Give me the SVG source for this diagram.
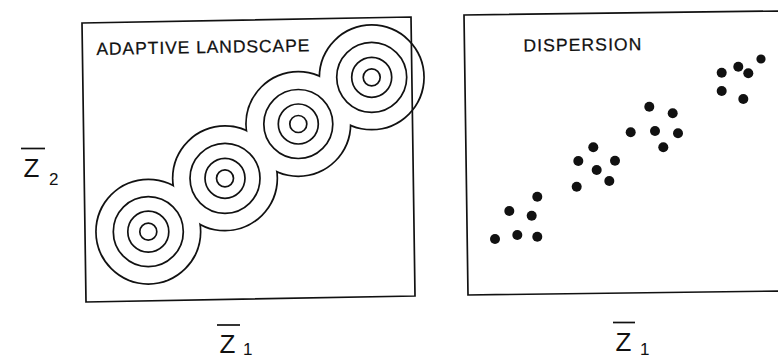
<svg xmlns="http://www.w3.org/2000/svg" width="778" height="360" viewBox="0 0 778 360">
  <defs>
    <style>
      .frame { fill: none; stroke: #111; stroke-width: 1.7; stroke-linejoin: miter; }
      .ring { fill: none; stroke: #111; stroke-width: 1.7; }
      .outer-stroke { fill: none; stroke: #111; stroke-width: 3.4; }
      .outer-fill { fill: #fff; stroke: none; }
      .dot { fill: #111; }
      .title { font-family: "Liberation Sans", Arial, Helvetica, sans-serif; font-size: 17.5px; fill: #111; stroke: #111; stroke-width: 0.25; }
      .axis { font-family: "Liberation Sans", Arial, Helvetica, sans-serif; font-size: 26px; fill: #111; }
      .sub { font-family: "Liberation Sans", Arial, Helvetica, sans-serif; font-size: 17px; fill: #111; }
      .bar { stroke: #111; stroke-width: 1.7; }
    </style>
  </defs>
  <rect width="778" height="360" fill="#fff"/>

  <!-- Left panel: adaptive landscape -->
  <g id="adaptive-landscape">
    <!-- union outline of the outer contours -->
    <g id="outer-contour">
      <circle class="outer-stroke" cx="148.3" cy="231.7" r="51.5"/>
      <circle class="outer-stroke" cx="225" cy="178.3" r="51.5"/>
      <circle class="outer-stroke" cx="298.3" cy="124" r="51.5"/>
      <circle class="outer-stroke" cx="371.7" cy="77.3" r="51.5"/>
      <circle class="outer-fill" cx="148.3" cy="231.7" r="51.5"/>
      <circle class="outer-fill" cx="225" cy="178.3" r="51.5"/>
      <circle class="outer-fill" cx="298.3" cy="124" r="51.5"/>
      <circle class="outer-fill" cx="371.7" cy="77.3" r="51.5"/>
    </g>
    <g id="peak-1">
      <circle class="ring" cx="148.3" cy="231.7" r="35"/>
      <circle class="ring" cx="148.3" cy="231.7" r="20.5"/>
      <circle class="ring" cx="148.3" cy="231.7" r="8.5"/>
    </g>
    <g id="peak-2">
      <circle class="ring" cx="225" cy="178.3" r="35"/>
      <circle class="ring" cx="225" cy="178.3" r="20"/>
      <circle class="ring" cx="225" cy="178.3" r="8.5"/>
    </g>
    <g id="peak-3">
      <circle class="ring" cx="298.3" cy="124" r="34.5"/>
      <circle class="ring" cx="298.3" cy="124" r="20"/>
      <circle class="ring" cx="298.3" cy="124" r="8.5"/>
    </g>
    <g id="peak-4">
      <circle class="ring" cx="371.7" cy="77.3" r="35"/>
      <circle class="ring" cx="371.7" cy="77.3" r="20"/>
      <circle class="ring" cx="371.7" cy="77.3" r="8.5"/>
    </g>
    <polygon class="frame" points="82,23 411,17 415,296 86,302"/>
    <text class="title" x="96.5" y="55" textLength="213" lengthAdjust="spacing" transform="rotate(-1 96.5 55)">ADAPTIVE LANDSCAPE</text>
  </g>

  <!-- Right panel: dispersion -->
  <g id="dispersion">
    <polyline class="frame" points="780,11 464,15 468,295 782,291"/>
    <text class="title" x="523.5" y="51.5" textLength="118" lengthAdjust="spacing" transform="rotate(-0.7 523.5 51.5)">DISPERSION</text>
    <g id="cluster-1">
      <circle class="dot" cx="495" cy="239" r="5"/>
      <circle class="dot" cx="517.3" cy="235" r="5"/>
      <circle class="dot" cx="537.3" cy="236.7" r="5"/>
      <circle class="dot" cx="509.3" cy="211" r="5"/>
      <circle class="dot" cx="531.7" cy="215.7" r="5"/>
      <circle class="dot" cx="537.3" cy="196.7" r="5"/>
    </g>
    <g id="cluster-2">
      <circle class="dot" cx="576.7" cy="186.7" r="5"/>
      <circle class="dot" cx="593.3" cy="147.3" r="5"/>
      <circle class="dot" cx="578.3" cy="161" r="5"/>
      <circle class="dot" cx="615" cy="160.7" r="5"/>
      <circle class="dot" cx="596.7" cy="170" r="5"/>
      <circle class="dot" cx="609.3" cy="181" r="5"/>
    </g>
    <g id="cluster-3">
      <circle class="dot" cx="630.7" cy="132.3" r="5"/>
      <circle class="dot" cx="649.3" cy="106.7" r="5"/>
      <circle class="dot" cx="655" cy="131" r="5"/>
      <circle class="dot" cx="672.7" cy="113.3" r="5"/>
      <circle class="dot" cx="678" cy="133.3" r="5"/>
      <circle class="dot" cx="663.3" cy="147.3" r="5"/>
    </g>
    <g id="cluster-4">
      <circle class="dot" cx="721.7" cy="72.7" r="5"/>
      <circle class="dot" cx="738.3" cy="66.7" r="5"/>
      <circle class="dot" cx="748.3" cy="73.3" r="5"/>
      <circle class="dot" cx="761" cy="59" r="4.6"/>
      <circle class="dot" cx="721.7" cy="91" r="5"/>
      <circle class="dot" cx="743.3" cy="99" r="5"/>
    </g>
  </g>

  <!-- Axis labels -->
  <g id="label-z2">
    <line class="bar" x1="21" y1="148.5" x2="45" y2="148.5"/>
    <text class="axis" x="23.5" y="177">Z</text>
    <text class="sub" x="49" y="185">2</text>
  </g>
  <g id="label-z1-left">
    <line class="bar" x1="217" y1="325" x2="240" y2="325"/>
    <text class="axis" x="219.5" y="353">Z</text>
    <text class="sub" x="243" y="355">1</text>
  </g>
  <g id="label-z1-right">
    <line class="bar" x1="613" y1="322.5" x2="635" y2="322.5"/>
    <text class="axis" x="615.5" y="351">Z</text>
    <text class="sub" x="640" y="355">1</text>
  </g>
</svg>
